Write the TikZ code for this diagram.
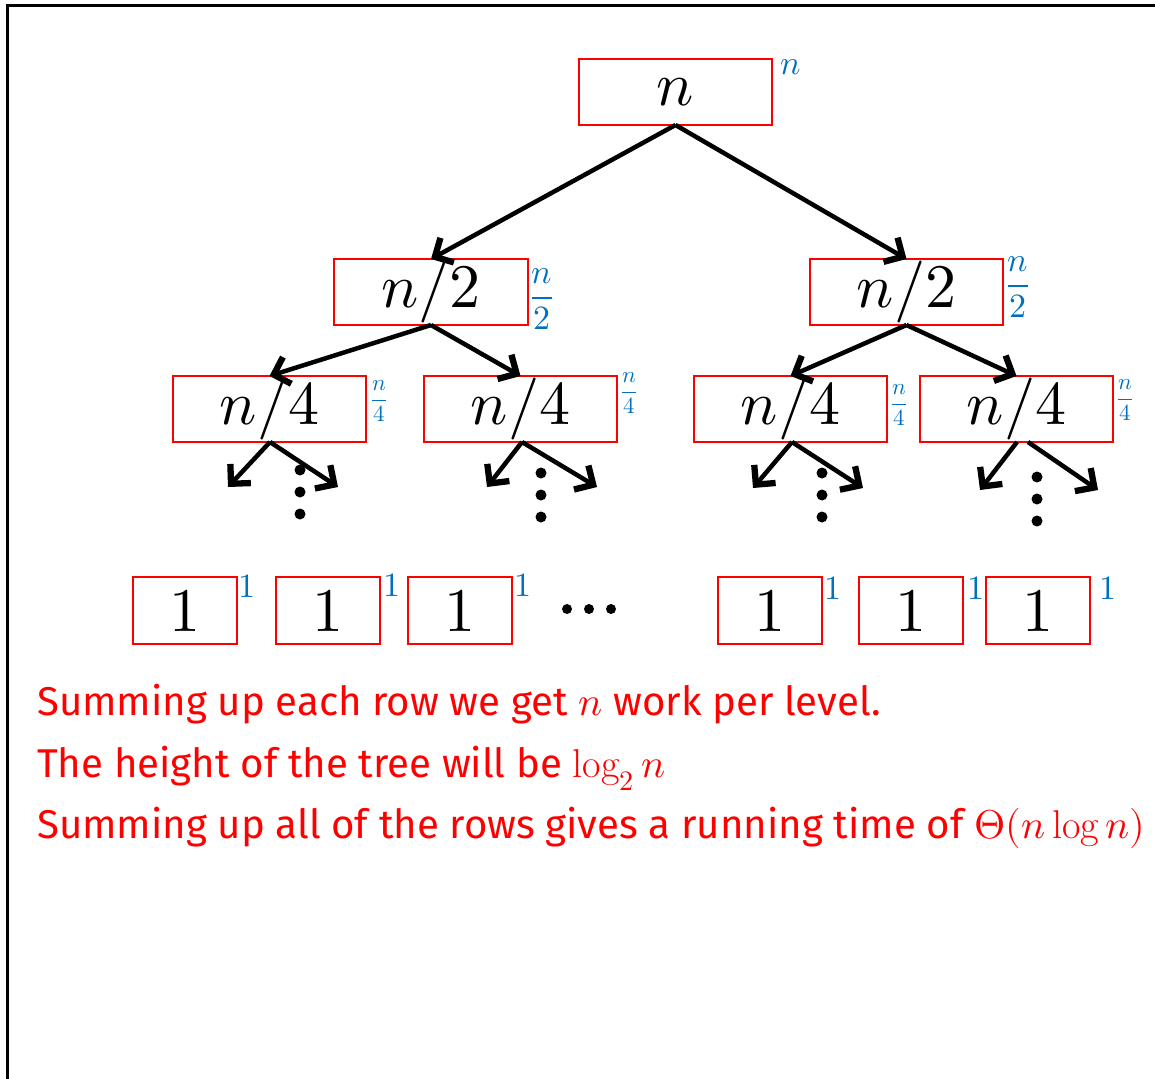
\documentclass[tikz,border=0pt]{standalone}
\usepackage{fontspec}
\usepackage{amsmath}
\usepackage{unicode-math}
\setmainfont{Fira Sans}
\setmathfont{Latin Modern Math}
\setmathrm{Latin Modern Roman}
\usetikzlibrary{arrows.meta}
\definecolor{lblue}{HTML}{0070C0}
\definecolor{tred}{HTML}{FF0000}
\begin{document}
\begin{tikzpicture}[x=1pt,y=-1pt,
  box/.style={draw=tred,line width=2pt,minimum height=66pt,inner sep=0pt,outer sep=0pt,
    font=\fontsize{62}{70}\selectfont},
  wbox/.style={box,minimum width=193pt},
  lbox/.style={box,minimum width=104pt,minimum height=67pt},
  lab/.style={text=lblue,inner sep=0pt,font=\fontsize{34}{40}\selectfont},
  slab/.style={text=lblue,inner sep=0pt,font=\fontsize{23}{27}\selectfont},
  arr/.style={line width=4.5pt,-{Straight Barb[length=14pt,width=28pt,line width=0pt 1.4]}},
  txt/.style={text=tred,anchor=base west,inner sep=0pt,font=\fontsize{40.2}{48}\selectfont}]
\useasboundingbox (0,0) rectangle (1155,1078);
\draw[line width=3pt] (7.5,1085) -- (7.5,6) -- (1165,6);
% level 0
\node[wbox] (r) at (675.5,92) {$n$};
\node[lab] (rl) at (791,67) {$n$};
% level 1
\node[wbox,minimum width=194pt] (a) at (431,292) {$n/2$};
\node[wbox] (b) at (906.5,292) {$n/2$};
\node[lab] (al) at (542,299) {$\dfrac{n}{2}$};
\node[lab] (bl) at (1018,287) {$\dfrac{n}{2}$};
% level 2
\node[wbox] (aa) at (269.5,409) {$n/4$};
\node[wbox] (ab) at (520.5,409) {$n/4$};
\node[wbox] (ba) at (790.5,409) {$n/4$};
\node[wbox] (bb) at (1016.5,409) {$n/4$};
\node[slab] (aal) at (379,401) {$\dfrac{n}{4}$};
\node[slab] (abl) at (629,393) {$\dfrac{n}{4}$};
\node[slab] (bal) at (899,405) {$\dfrac{n}{4}$};
\node[slab] (bbl) at (1125,400) {$\dfrac{n}{4}$};
% leaves
\node[lbox] (l1) at (184.5,610.5) {$1$};
\node[lbox] (l2) at (328,610.5) {$1$};
\node[lbox] (l3) at (460,610.5) {$1$};
\node[lbox] (l4) at (770,610.5) {$1$};
\node[lbox] (l5) at (911,610.5) {$1$};
\node[lbox] (l6) at (1038,610.5) {$1$};
\node[lab] (l1l) at (247,586) {$1$};
\node[lab] (l2l) at (392,585) {$1$};
\node[lab] (l3l) at (523,585) {$1$};
\node[lab] (l4l) at (833,588) {$1$};
\node[lab] (l5l) at (976,588) {$1$};
\node[lab] (l6l) at (1108,588) {$1$};
% arrows
\draw[arr] (r.south) -- (a.north);
\draw[arr] (r.south) -- (b.north);
\draw[arr] (a.south) -- (aa.north);
\draw[arr] (a.south) -- (ab.north);
\draw[arr] (b.south) -- (ba.north);
\draw[arr] (b.south) -- (bb.north);
\coordinate (aa1) at (228,487); \coordinate (aa2) at (338,487);
\coordinate (ab1) at (487,487); \coordinate (ab2) at (597,487);
\coordinate (ba1) at (753,488); \coordinate (ba2) at (863,488);
\coordinate (bb1) at (980,490); \coordinate (bb2) at (1098,490);
\draw[arr] ([xshift=0.5pt]aa.south) -- (aa1);
\draw[arr] ([xshift=0.5pt]aa.south) -- (aa2);
\draw[arr] ([xshift=1.5pt]ab.south) -- (ab1);
\draw[arr] ([xshift=1.5pt]ab.south) -- (ab2);
\draw[arr] ([xshift=1.5pt]ba.south) -- (ba1);
\draw[arr] ([xshift=1.5pt]ba.south) -- (ba2);
\draw[arr] ([xshift=0.5pt]bb.south) -- (bb1);
\draw[arr] ([xshift=11.5pt]bb.south) -- (bb2);
% vertical dots
\foreach \x/\y in {300/470,541/473,822/473,1037/477}{
  \fill (\x,\y) circle (5.5pt) (\x,\y+22) circle (5.5pt) (\x,\y+44) circle (5.5pt);}
% horizontal dots
\foreach \x in {567,589,611}{\fill (\x,609) circle (5pt);}
% text
\node[txt] (t1) at (37,715) {Summing up each row we get $n$ work per level.};
\node[txt] (t2) at (37,777) {The height of the tree will be $\log_2 n$};
\node[txt] (t3) at (37,838) {Summing up all of the rows gives a running time of $\Theta(n\log n)$};
\end{tikzpicture}
\end{document}
